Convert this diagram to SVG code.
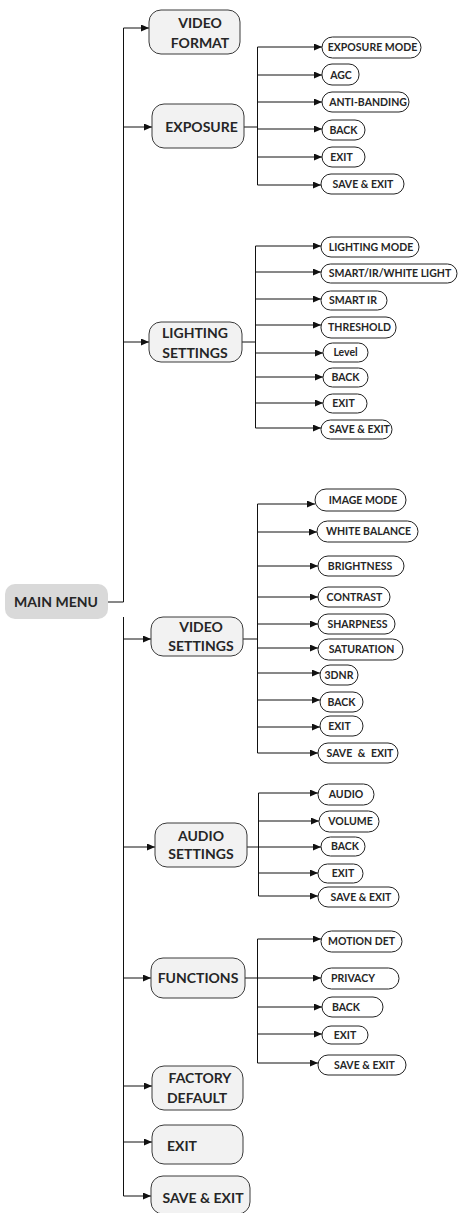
<svg xmlns="http://www.w3.org/2000/svg" width="458" height="1213" viewBox="0 0 458 1213">
<style>
.m rect{fill:#f2f2f2;stroke:#3a3a3a;stroke-width:1}
.i rect{fill:#fff;stroke:#222;stroke-width:1}
text{font-family:Lato,"Liberation Sans",sans-serif;font-weight:700;fill:#262626;text-anchor:middle}
.m text{font-size:14px}
.i text{font-size:10.5px}
#conn path{fill:none;stroke:#111;stroke-width:1}
#conn .a{marker-end:url(#ah)}
</style>
<defs>
<marker id="ah" markerUnits="userSpaceOnUse" markerWidth="9" markerHeight="7" refX="8" refY="3.5" orient="auto"><path d="M0,0 L8,3.5 L0,7 z" fill="#111"/></marker>
</defs>
<g id="conn">
<path d="M123.5,28 V602 M123.5,617 V1196 M108,602 H123.5"/>
<path class="a" d="M123.5,28 H149"/>
<path class="a" d="M123.5,127 H152"/>
<path class="a" d="M123.5,342 H149"/>
<path class="a" d="M123.5,639 H151"/>
<path class="a" d="M123.5,847 H155"/>
<path class="a" d="M123.5,978 H151"/>
<path class="a" d="M123.5,1086 H152"/>
<path class="a" d="M123.5,1142 H152"/>
<path class="a" d="M123.5,1196 H151"/>
<!-- exposure -->
<path d="M244,127 H257.5 M257.5,47 V185"/>
<path class="a" d="M257.5,47 H322"/>
<path class="a" d="M257.5,75 H322"/>
<path class="a" d="M257.5,102 H322"/>
<path class="a" d="M257.5,129 H322"/>
<path class="a" d="M257.5,157 H322"/>
<path class="a" d="M257.5,185 H321"/>
<!-- lighting -->
<path d="M242,342 H255.5 M255.5,246 V428"/>
<path class="a" d="M255.5,246 H321"/>
<path class="a" d="M255.5,272 H321"/>
<path class="a" d="M255.5,299 H321"/>
<path class="a" d="M255.5,325 H321"/>
<path class="a" d="M255.5,353 H323"/>
<path class="a" d="M255.5,377 H323"/>
<path class="a" d="M255.5,403 H323"/>
<path class="a" d="M255.5,428 H321"/>
<!-- video -->
<path d="M243,639 H257.5 M257.5,504 V753"/>
<path class="a" d="M257.5,504 H315"/>
<path class="a" d="M257.5,532 H317"/>
<path class="a" d="M257.5,566 H318"/>
<path class="a" d="M257.5,597 H318"/>
<path class="a" d="M257.5,624 H318"/>
<path class="a" d="M257.5,648 H318"/>
<path class="a" d="M257.5,673 H320"/>
<path class="a" d="M257.5,700 H320"/>
<path class="a" d="M257.5,727 H320"/>
<path class="a" d="M257.5,753 H318"/>
<!-- audio -->
<path d="M258.5,793 V896"/>
<path class="a" d="M258.5,793 H318"/>
<path class="a" d="M258.5,821 H319"/>
<path class="a" d="M247,847 H321"/>
<path class="a" d="M258.5,873 H318"/>
<path class="a" d="M258.5,896 H318"/>
<!-- functions -->
<path d="M257.5,939 V1063"/>
<path class="a" d="M257.5,939 H321"/>
<path class="a" d="M245,978 H321"/>
<path class="a" d="M257.5,1007 H322"/>
<path class="a" d="M257.5,1034 H322"/>
<path class="a" d="M257.5,1063 H318"/>
</g>
<g id="main-menu"><rect x="5" y="584" width="103" height="35" rx="10" fill="#d9d9d9"/><text x="56" y="607" style="font-size:14px">MAIN MENU</text></g>
<g id="video-format" class="m"><rect x="149" y="10" width="91" height="44" rx="12"/><text x="200" y="28">VIDEO</text><text x="200" y="48">FORMAT</text></g>
<g id="exposure" class="m"><rect x="152" y="104" width="92" height="44" rx="12"/><text x="201.5" y="132">EXPOSURE</text></g>
<g id="lighting-settings" class="m"><rect x="149" y="322" width="93" height="40" rx="12"/><text x="195" y="338">LIGHTING</text><text x="195" y="358">SETTINGS</text></g>
<g id="video-settings" class="m"><rect x="151" y="617" width="92" height="39" rx="12"/><text x="201" y="632">VIDEO</text><text x="201" y="651">SETTINGS</text></g>
<g id="audio-settings" class="m"><rect x="155" y="823" width="92" height="44" rx="12"/><text x="201" y="841">AUDIO</text><text x="201" y="859">SETTINGS</text></g>
<g id="functions" class="m"><rect x="151" y="958" width="94" height="40" rx="12"/><text x="198" y="983">FUNCTIONS</text></g>
<g id="factory-default" class="m"><rect x="152" y="1066" width="91" height="44" rx="12"/><text x="200" y="1083">FACTORY</text><text x="197" y="1103">DEFAULT</text></g>
<g id="exit" class="m"><rect x="152" y="1125" width="91" height="39" rx="12"/><text x="167" y="1151" style="text-anchor:start">EXIT</text></g>
<g id="save-exit" class="m"><rect x="151" y="1176" width="99" height="38" rx="12"/><text x="203" y="1203">SAVE &amp; EXIT</text></g>

<g id="exp-mode" class="i"><rect x="322" y="37" width="99" height="21" rx="10.5"/><text x="372.5" y="51">EXPOSURE MODE</text></g>
<g id="exp-agc" class="i"><rect x="322" y="64" width="37" height="21" rx="10"/><text x="341" y="78.5">AGC</text></g>
<g id="exp-anti" class="i"><rect x="322" y="92" width="87" height="20" rx="10"/><text x="368" y="105.5">ANTI-BANDING</text></g>
<g id="exp-back" class="i"><rect x="322" y="120" width="43" height="20" rx="10"/><text x="343.5" y="133.5">BACK</text></g>
<g id="exp-exit" class="i"><rect x="322" y="147" width="43" height="20" rx="10"/><text x="341.5" y="160.5">EXIT</text></g>
<g id="exp-save" class="i"><rect x="321" y="174" width="83" height="20" rx="10"/><text x="363" y="187.5">SAVE &amp; EXIT</text></g>

<g id="lt-mode" class="i"><rect x="321" y="237" width="98" height="20" rx="10"/><text x="371" y="250.5">LIGHTING MODE</text></g>
<g id="lt-smart-white" class="i"><rect x="321" y="264" width="136" height="19" rx="9.5"/><text x="390" y="277">SMART/IR/WHITE LIGHT</text></g>
<g id="lt-smart-ir" class="i"><rect x="321" y="291" width="66" height="19" rx="9.5"/><text x="353" y="304">SMART IR</text></g>
<g id="lt-threshold" class="i"><rect x="321" y="317" width="75" height="21" rx="10"/><text x="359.5" y="331">THRESHOLD</text></g>
<g id="lt-level" class="i"><rect x="323" y="343" width="45" height="19" rx="9.5"/><text x="345.5" y="356">Level</text></g>
<g id="lt-back" class="i"><rect x="323" y="368" width="45" height="19" rx="9.5"/><text x="345.5" y="381">BACK</text></g>
<g id="lt-exit" class="i"><rect x="323" y="394" width="44" height="19" rx="9.5"/><text x="343.5" y="407">EXIT</text></g>
<g id="lt-save" class="i"><rect x="321" y="420" width="71" height="19" rx="9.5"/><text x="359.5" y="433">SAVE &amp; EXIT</text></g>

<g id="vs-image" class="i"><rect x="315" y="489" width="91" height="22" rx="11"/><text x="363" y="503.5">IMAGE MODE</text></g>
<g id="vs-wb" class="i"><rect x="317" y="521" width="101" height="21" rx="10.5"/><text x="368.5" y="535">WHITE BALANCE</text></g>
<g id="vs-bright" class="i"><rect x="318" y="556" width="86" height="20" rx="10"/><text x="360" y="569.5">BRIGHTNESS</text></g>
<g id="vs-contrast" class="i"><rect x="318" y="587" width="72" height="20" rx="10"/><text x="354.5" y="600.5">CONTRAST</text></g>
<g id="vs-sharp" class="i"><rect x="318" y="614" width="77" height="20" rx="10"/><text x="357.5" y="627.5">SHARPNESS</text></g>
<g id="vs-sat" class="i"><rect x="318" y="639" width="85" height="21" rx="10.5"/><text x="361.5" y="653">SATURATION</text></g>
<g id="vs-3dnr" class="i"><rect x="320" y="665" width="38" height="20" rx="10"/><text x="339" y="678.5">3DNR</text></g>
<g id="vs-back" class="i"><rect x="320" y="692" width="43" height="20" rx="10"/><text x="341.5" y="705.5">BACK</text></g>
<g id="vs-exit" class="i"><rect x="320" y="716" width="43" height="20" rx="10"/><text x="339.5" y="729.5">EXIT</text></g>
<g id="vs-save" class="i"><rect x="318" y="743" width="80" height="20" rx="10"/><text x="360" y="756.5" style="word-spacing:3px">SAVE &amp; EXIT</text></g>

<g id="au-audio" class="i"><rect x="318" y="784" width="56" height="21" rx="10.5"/><text x="346" y="798">AUDIO</text></g>
<g id="au-volume" class="i"><rect x="319" y="811" width="60" height="21" rx="10.5"/><text x="350.5" y="825">VOLUME</text></g>
<g id="au-back" class="i"><rect x="321" y="837" width="44" height="19" rx="9.5"/><text x="345" y="850">BACK</text></g>
<g id="au-exit" class="i"><rect x="318" y="864" width="45" height="19" rx="9.5"/><text x="343" y="877">EXIT</text></g>
<g id="au-save" class="i"><rect x="318" y="887" width="81" height="20" rx="10"/><text x="361" y="900.5">SAVE &amp; EXIT</text></g>

<g id="fn-motion" class="i"><rect x="321" y="931" width="81" height="21" rx="10.5"/><text x="361.5" y="945">MOTION DET</text></g>
<g id="fn-privacy" class="i"><rect x="321" y="968" width="78" height="21" rx="10.5"/><text x="353" y="982">PRIVACY</text></g>
<g id="fn-back" class="i"><rect x="322" y="997" width="61" height="20" rx="10"/><text x="346" y="1010.5">BACK</text></g>
<g id="fn-exit" class="i"><rect x="322" y="1026" width="46" height="18" rx="9"/><text x="345" y="1038.5">EXIT</text></g>
<g id="fn-save" class="i"><rect x="318" y="1055" width="88" height="20" rx="10"/><text x="364.5" y="1068.5">SAVE &amp; EXIT</text></g>
</svg>
